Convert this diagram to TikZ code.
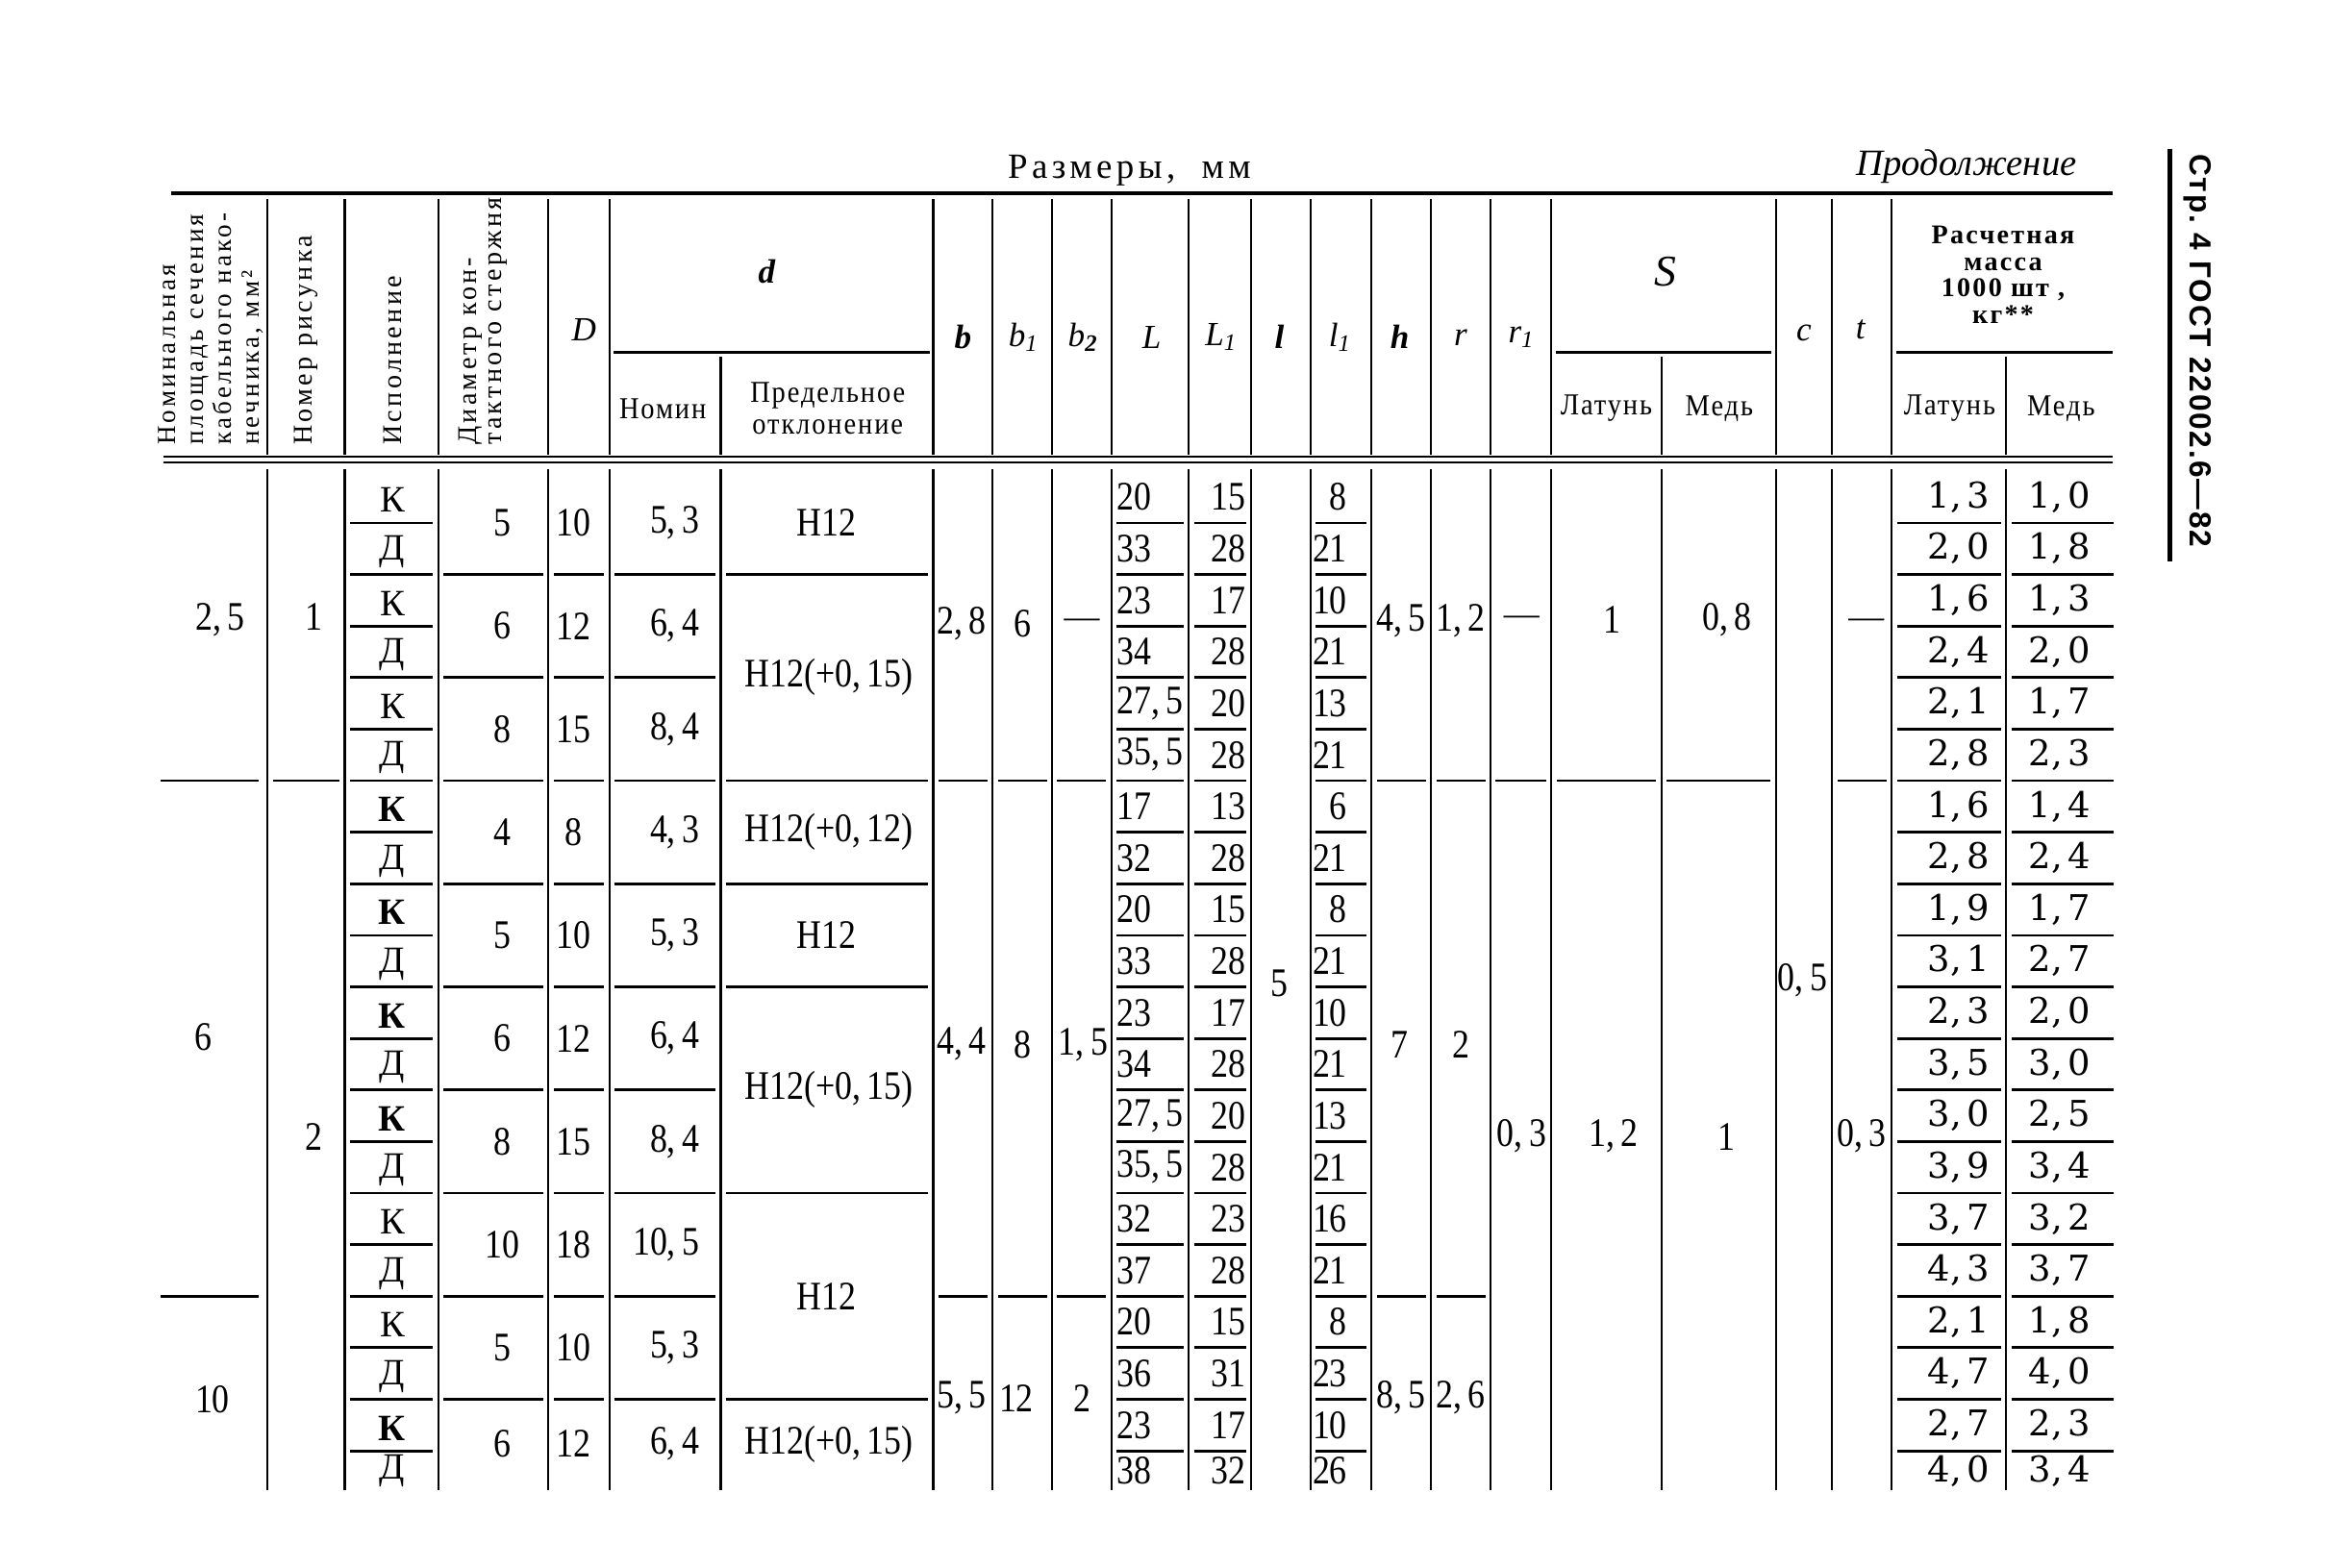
\documentclass[tikz,border=0pt]{standalone}
\usepackage{fontspec}
\newfontfamily\ser{Liberation Serif}
\newfontfamily\cnd{Liberation Serif}[FakeStretch=0.85]
\newfontfamily\hdr{Liberation Serif}[LetterSpace=12]
\newfontfamily\hdrm{Liberation Serif}[LetterSpace=8]
\newfontfamily\hdrc{Liberation Serif}[FakeStretch=0.9,LetterSpace=6]
\newfontfamily\msf{DejaVu Serif}
\newfontfamily\sansb{Liberation Sans}[LetterSpace=6]
\newcommand\dd[2]{#1,\kern0.15em#2}
\newcommand\segs[3]{\foreach \j in {#3} {\draw[hl] ({#1+3.5},{317.3+34.7*\j}) -- ({#2-3.5},{317.3+34.7*\j});}}
\begin{document}
\begin{tikzpicture}[x=0.015453cm,y=-0.015453cm,
  vl/.style={line width=0.6pt},
  hl/.style={line width=0.8pt},
  cv/.style={inner sep=0pt,font=\cnd\fontsize{12}{13}\selectfont},
  kd/.style={inner sep=0pt,font=\ser\fontsize{11}{12}\selectfont},
  mv/.style={inner sep=0pt,font=\msf\fontsize{10.5}{11}\selectfont},
  rt/.style={rotate=90,anchor=west,inner sep=0pt,align=left,font=\hdr\fontsize{8}{7.6}\selectfont},
  it/.style={inner sep=0pt,font=\ser\itshape\fontsize{10}{11}\selectfont},
  bi/.style={inner sep=0pt,font=\ser\bfseries\itshape\fontsize{10}{11}\selectfont},
  hd/.style={inner sep=0pt,align=center,font=\hdrc\fontsize{9}{9.4}\selectfont},
  dsh/.style={inner sep=0pt,font=\ser\fontsize{10.5}{11}\selectfont},
]
\useasboundingbox (0,0) rectangle (1568,1055);
% titles
\node[inner sep=0pt,font=\hdr\fontsize{10.5}{11}\selectfont] (title) at (760,115) {Размеры,\ \ мм};
\node[anchor=east,inner sep=0pt,font=\ser\itshape\fontsize{11}{12}\selectfont] (cont) at (1398,112) {Продолжение};
\draw[line width=1.4pt] (1460,100) -- (1460,378);
\node[rotate=-90,inner sep=0pt,font=\sansb\bfseries\fontsize{9}{10}\selectfont] (pg) at (1479,236) {Стр.\ 4 ГОСТ\ 22002.6—82};
% rules
\draw[line width=1.3pt] (115,130) -- (1422,130);
\draw[vl] (110,307.5) -- (1422,307.5);
\draw[vl] (110,311.5) -- (1422,311.5);
% header verticals
\foreach \x in {180,232,295,369,410,628,668,708,748,800,842,882,923,963,1003,1044,1195,1233,1273}
  {\draw[vl] (\x,134) -- (\x,306);}
\foreach \x in {485,1118,1350} {\draw[vl] (\x,240) -- (\x,306);}
\draw[hl] (413,237) -- (626,237);
\draw[hl] (1047,237) -- (1192,237);
\draw[hl] (1276,237) -- (1422,237);
% header texts
\node[rt,font=\hdr\fontsize{7.7}{8.3}\selectfont] (h1) at (142,300) {Номинальная\\площадь сечения\\кабельного нако-\\нечника, мм²};
\node[rt] (h2) at (206,300) {Номер рисунка};
\node[rt] (h3) at (264,300) {Исполнение};
\node[rt] (h4) at (325,300) {Диаметр кон-\\тактного стержня};
\node[it] (hD) at (393,222) {D};
\node[bi] (hdd) at (516,183) {d};
\node[hd] (hnom) at (446,275) {Номин};
\node[hd] (hpred) at (557,275) {Предельное\\отклонение};
\node[bi] (hb) at (648,227) {b};
\node[it] (hb1) at (689,227) {b\textsubscript{1}};
\node[it] (hb2) at (729,227) {b\textsubscript{\bfseries 2}};
\node[it] (hL) at (775,227) {L};
\node[it] (hL1) at (822,227) {L\textsubscript{1}};
\node[bi] (hl) at (861,227) {l};
\node[it] (hl1) at (902,227) {l\textsubscript{1}};
\node[bi] (hh) at (942,227) {h};
\node[it] (hr) at (983,227) {r};
\node[it] (hr1) at (1024,227) {r\textsubscript{1}};
\node[it,font=\ser\itshape\fontsize{13}{13}\selectfont] (hS) at (1121,183) {S};
\node[hd] (hSl) at (1081,275) {Латунь};
\node[hd] (hSm) at (1157,275) {Медь};
\node[it] (hc) at (1214,224) {c};
\node[it] (ht) at (1252,222) {t};
\node[hd,font=\hdrm\bfseries\fontsize{8}{7.8}\selectfont] (hm) at (1348,185) {Расчетная\\масса\\1000 шт ,\\кг**};
\node[hd] (hml) at (1312,275) {Латунь};
\node[hd] (hmm) at (1387,275) {Медь};
% body verticals
\foreach \x in {180,232,295,369,410,485,628,668,708,748,800,842,882,923,963,1003,1044,1118,1195,1233,1273,1350}
  {\draw[vl] (\x,316) -- (\x,1003);}
% body horizontal segments
\draw[hl] (108,525.5) -- (174,525.5);
\draw[hl] (108,872.5) -- (174,872.5);
\segs{180}{232}{6}
\segs{232}{295}{1,...,19}
\segs{295}{369}{2,4,...,18}
\segs{369}{410}{2,4,...,18}
\segs{410}{485}{2,4,...,18}
\segs{485}{628}{2,6,8,10,14,18}
\segs{628}{668}{6,16}
\segs{668}{708}{6,16}
\segs{708}{748}{6,16}
\segs{748}{800}{1,...,19}
\segs{800}{842}{1,...,19}
\segs{882}{923}{1,...,19}
\segs{923}{963}{6,16}
\segs{963}{1003}{6,16}
\segs{1003}{1044}{6}
\segs{1044}{1118}{6}
\segs{1118}{1195}{6}
\segs{1233}{1273}{6}
\segs{1273}{1350}{1,...,19}
\segs{1350}{1426}{1,...,19}
% body values
\node[cv] (v1a) at (148,417) {\dd25};
\node[cv] (v1b) at (137,698) {6};
\node[cv] (v1c) at (143,942) {10};
\node[cv] (v2a) at (211,415) {1};
\node[cv] (v2b) at (211,765) {2};
\foreach \s [count=\i from 0] in {К,Д,К,Д,К,Д,{\bfseries К},Д,{\bfseries К},Д,{\bfseries К},Д,{\bfseries К},Д,К,Д,К,Д,{\bfseries К},Д}
  {\pgfmathsetmacro\yy{\i<19 ? 317.3+34.7*(\i+0.5)+2 : 990}
   \node[kd] (isp\i) at (264,\yy) {\s};}
\foreach \v/\yy [count=\i] in {5/352,6/421.4,8/490.8,4/560.2,5/629.6,6/699,8/768.4,10/837.8,5/907.2,6/972}
  {\node[cv] (dia\i) at (338,\yy) {\v};}
\foreach \v/\yy [count=\i] in {10/352,12/421.4,15/490.8,8/560.2,10/629.6,12/699,15/768.4,18/837.8,10/907.2,12/972}
  {\node[cv] (DD\i) at (386,\yy) {\v};}
\foreach \a/\b/\yy [count=\i] in {5/3/352,6/4/421.4,8/4/490.8,4/3/560.2,5/3/629.6,6/4/699,8/4/768.4,10/5/837.8,5/3/907.2,6/4/972}
  {\node[cv,anchor=east] (nom\i) at (471,\yy) {\dd{\a}{\b}};}
\node[cv] (pr1) at (556,352) {H12};
\node[cv] (pr2) at (558,456.1) {H12(+\dd0{15})};
\node[cv] (pr3) at (558,560.2) {H12(+\dd0{12})};
\node[cv] (pr4) at (556,629.6) {H12};
\node[cv] (pr5) at (558,733.7) {H12(+\dd0{15})};
\node[cv] (pr6) at (556,872.5) {H12};
\node[cv] (pr7) at (558,972) {H12(+\dd0{15})};
% b b1 b2
\node[cv] (b1) at (647,420) {\dd28};
\node[cv] (b2) at (647,703) {\dd44};
\node[cv] (b3) at (647,941) {\dd55};
\node[cv] (bb1) at (688,420) {6};
\node[cv] (bb2) at (688,703) {8};
\node[cv] (bb3) at (684,941) {12};
\node[dsh] (bc1) at (728,420) {—};
\node[cv] (bc2) at (729,703) {\dd15};
\node[cv] (bc3) at (728,941) {2};
% L L1 l l1
\foreach \v [count=\i from 0] in {20,33,23,34,{\dd{27}{5}},{\dd{35}{5}},17,32,20,33,23,34,{\dd{27}{5}},{\dd{35}{5}},32,37,20,36,23,38}
  {\pgfmathsetmacro\yy{\i<19 ? 317.3+34.7*(\i+0.5) : 990}
   \node[cv,anchor=west] (L\i) at (751,\yy) {\v};}
\foreach \v [count=\i from 0] in {15,28,17,28,20,28,13,28,15,28,17,28,20,28,23,28,15,31,17,32}
  {\pgfmathsetmacro\yy{\i<19 ? 317.3+34.7*(\i+0.5) : 990}
   \node[cv,anchor=east] (LL\i) at (839,\yy) {\v};}
\node[cv] (ll) at (861,662) {5};
\foreach \v [count=\i from 0] in {8,21,10,21,13,21,6,21,8,21,10,21,13,21,16,21,8,23,10,26}
  {\pgfmathsetmacro\yy{\i<19 ? 317.3+34.7*(\i+0.5) : 990}
   \node[cv,anchor=east] (lo\i) at (907,\yy) {\v};}
% h r r1
\node[cv] (h1v) at (943,418) {\dd45};
\node[cv] (h2v) at (942,703) {7};
\node[cv] (h3v) at (943,941) {\dd85};
\node[cv] (r1v) at (983,418) {\dd12};
\node[cv] (r2v) at (983,703) {2};
\node[cv] (r3v) at (983,941) {\dd26};
\node[dsh] (ra1) at (1024,418) {—};
\node[cv] (ra2) at (1024,765) {\dd03};
% S
\node[cv] (sl1) at (1085,417) {1};
\node[cv] (sl2) at (1086,765) {\dd12};
\node[cv] (sm1) at (1162,417) {\dd08};
\node[cv] (sm2) at (1162,765) {1};
% c t
\node[cv] (cv1) at (1213,660) {\dd05};
\node[dsh] (tv1) at (1256,420) {—};
\node[cv] (tv2) at (1253,765) {\dd03};
% mass
\foreach \a/\b [count=\i from 0] in {1/3,2/0,1/6,2/4,2/1,2/8,1/6,2/8,1/9,3/1,2/3,3/5,3/0,3/9,3/7,4/3,2/1,4/7,2/7,4/0}
  {\pgfmathsetmacro\yy{\i<19 ? 317.3+34.7*(\i+0.5) : 990}
   \node[mv] (ml\i) at (1318,\yy) {\dd{\a}{\b}};}
\foreach \a/\b [count=\i from 0] in {1/0,1/8,1/3,2/0,1/7,2/3,1/4,2/4,1/7,2/7,2/0,3/0,2/5,3/4,3/2,3/7,1/8,4/0,2/3,3/4}
  {\pgfmathsetmacro\yy{\i<19 ? 317.3+34.7*(\i+0.5) : 990}
   \node[mv] (mm\i) at (1386,\yy) {\dd{\a}{\b}};}
\end{tikzpicture}
\end{document}
